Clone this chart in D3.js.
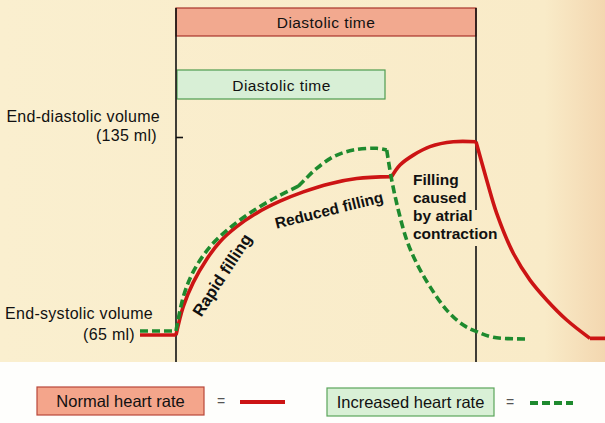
<!DOCTYPE html>
<html><head><meta charset="utf-8">
<script src="https://cdn.jsdelivr.net/npm/d3@7"></script>
<style>
html,body{margin:0;padding:0;background:#fff;}
svg{display:block;}
text{font-family:"Liberation Sans",Arial,Helvetica,sans-serif;fill:#111;}
</style></head>
<body>
<svg id="chart" width="605" height="423"></svg>
<script>
// ---- data (time in ms from start of diastole, volume in ml) ----
const normalTime   = [-60, 0, 12.2, 28.8, 51.2, 73.3, 101.2, 134.5, 173.3, 212.2, 256.7, 301.2, 359.5, 373.3, 395.5, 423.3, 462.2, 500, 517.8, 534.5, 562.2, 590, 617.8, 651.2, 690, 715];
const normalVolume = [65, 65, 75.1, 83.6, 91.8, 98.0, 103.3, 108.1, 112.3, 115.6, 118.5, 120.3, 121.0, 125.1, 128.6, 131.6, 133.3, 133.3, 119.8, 108.0, 93.9, 84.4, 77.4, 70.3, 63.8, 63.8];
const normalKinks  = [0, 359.5, 500, 690];

const fastTime   = [-60, 0, 12.2, 28.8, 56.7, 90, 128.8, 167.8, 203.8, 217.8, 234.5, 262.2, 295.5, 334.5, 351.2, 359.5, 370.5, 384.5, 401.2, 423.3, 451.2, 478.8, 501.2, 528.8, 581.7];
const fastVolume = [66.4, 66.4, 78.5, 87.4, 96.2, 102.9, 108.9, 113.8, 117.6, 120.6, 123.9, 128.0, 130.4, 131.0, 130.4, 119.8, 109.2, 98.6, 90.3, 82.1, 73.8, 68.5, 66.2, 64.2, 63.6];
const fastKinks  = [0, 203.8, 351.2];

const volumeTickValues = [135, 65];
const volumeTickNames  = ["End-diastolic volume", "End-systolic volume"];
const volumeTickUnits  = ["(135 ml)", "(65 ml)"];

const diastoleNormal = [0, 500];
const diastoleFast   = [0, 345];

const legendLabels = ["Normal heart rate", "Increased heart rate"];

// ---- setup ----
const svg = d3.select("#chart");
const x = d3.scaleLinear().domain([-60, 715]).range([140, 605]);
const y = d3.scaleLinear().domain([65, 135]).range([335, 137]);

const RED = "#cc1414", GREEN = "#1e8a2e";

// background
const defs = svg.append("defs");
const grad = defs.append("linearGradient").attr("id","bg").attr("x1","0").attr("x2","1").attr("y1","0").attr("y2","0");
grad.append("stop").attr("offset","0%").attr("stop-color","#faefcf");
grad.append("stop").attr("offset","90%").attr("stop-color","#f9ebc8");
grad.append("stop").attr("offset","100%").attr("stop-color","#f3d7b0");
svg.append("rect").attr("x",0).attr("y",0).attr("width",605).attr("height",423).attr("fill","#fefefc");
svg.append("rect").attr("x",0).attr("y",0).attr("width",605).attr("height",362).attr("fill","url(#bg)");

// top diastolic box (normal)
svg.append("rect").attr("x", x(diastoleNormal[0])).attr("y", 8)
  .attr("width", x(diastoleNormal[1]) - x(diastoleNormal[0])).attr("height", 28)
  .attr("fill", "#f2a98f").attr("stroke", "#a8352a").attr("stroke-width", 1.2);
svg.append("text").attr("x", (x(diastoleNormal[0]) + x(diastoleNormal[1]))/2).attr("y", 27.5)
  .attr("text-anchor","middle").attr("font-size", 15.5).attr("letter-spacing", 0.45).text("Diastolic time");

// fast diastolic box
svg.append("rect").attr("x", x(diastoleFast[0]) + 1).attr("y", 70)
  .attr("width", x(diastoleFast[1]) - x(diastoleFast[0]) + 1).attr("height", 29)
  .attr("fill", "#d8efd6").attr("stroke", "#4f9c4f").attr("stroke-width", 1.2);
svg.append("text").attr("x", (x(diastoleFast[0]) + x(diastoleFast[1]))/2 + 2).attr("y", 90.5)
  .attr("text-anchor","middle").attr("font-size", 15.5).attr("letter-spacing", 0.45).text("Diastolic time");

// vertical lines
svg.append("line").attr("x1", x(0)).attr("x2", x(0)).attr("y1", 8).attr("y2", 362)
  .attr("stroke","#111").attr("stroke-width",1.6);
svg.append("line").attr("x1", x(500)).attr("x2", x(500)).attr("y1", 8).attr("y2", 210)
  .attr("stroke","#111").attr("stroke-width",1.6);
svg.append("line").attr("x1", x(500)).attr("x2", x(500)).attr("y1", 246).attr("y2", 362)
  .attr("stroke","#111").attr("stroke-width",1.6);

// y tick (135 ml)
const yAxis = d3.axisRight(y).tickValues([volumeTickValues[0]]).tickSize(7).tickFormat("");
const ya = svg.append("g").attr("transform", `translate(${x(0)},0)`).call(yAxis);
ya.select(".domain").remove();
ya.selectAll(".tick line").attr("stroke","#111").attr("stroke-width",1.6);

// volume labels
const labelRight = [160, 153];
const unitRight = [157, 135];
volumeTickValues.forEach((v, i) => {
  const yy = y(v);
  const off = i === 0 ? [-15, 3.5] : [-16, 4.5];
  svg.append("text").attr("x", labelRight[i]).attr("y", yy + off[0])
    .attr("text-anchor","end").attr("font-size", 16).attr("letter-spacing", 0.3).text(volumeTickNames[i]);
  svg.append("text").attr("x", unitRight[i]).attr("y", yy + off[1])
    .attr("text-anchor","end").attr("font-size", 16).attr("letter-spacing", 0.3).text(volumeTickUnits[i]);
});

// helpers to split series at kinks
function segments(ts, vs, kinks) {
  const pts = ts.map((t, i) => [t, vs[i]]);
  const segs = [];
  let cur = [];
  pts.forEach(p => {
    cur.push(p);
    if (kinks.includes(p[0]) && cur.length > 1) { segs.push(cur); cur = [p]; }
  });
  if (cur.length > 1) segs.push(cur);
  return segs;
}
const line = d3.line().x(d => x(d[0])).y(d => y(d[1])).curve(d3.curveCatmullRom.alpha(0.5));
function pathFor(segs) { return segs.map(s => line(s)).join(""); }

// normal (red) line
svg.append("path").attr("d", pathFor(segments(normalTime, normalVolume, normalKinks)))
  .attr("fill","none").attr("stroke", RED).attr("stroke-width", 3.6).attr("stroke-linejoin","round");

// fast (green dashed) line
svg.append("path").attr("d", pathFor(segments(fastTime, fastVolume, fastKinks)))
  .attr("fill","none").attr("stroke", GREEN).attr("stroke-width", 3.6).attr("stroke-dasharray","8,4");

// annotations
svg.append("text").attr("transform","translate(222,275) rotate(-57)")
  .attr("text-anchor","middle").attr("dy","0.35em").attr("font-size",16.5).attr("font-weight","bold").text("Rapid filling");
svg.append("text").attr("transform","translate(329,210) rotate(-14)")
  .attr("text-anchor","middle").attr("dy","0.35em").attr("font-size",15.5).attr("font-weight","bold").text("Reduced filling");
["Filling","caused","by atrial","contraction"].forEach((s, i) => {
  svg.append("text").attr("x", 413).attr("y", 184.5 + i*18.3).attr("font-size", 15.5)
    .attr("font-weight","bold").text(s);
});

// legend
const legendBoxes = [
  {x:37, y:387, w:167, fill:"#f4a58b", stroke:"#b8463a", eq:221, lx:[240,285], color:RED, dash:null},
  {x:327, y:388, w:167, fill:"#d9f0d6", stroke:"#5aa55a", eq:510, lx:[530,573], color:GREEN, dash:"8,4"}
];
legendBoxes.forEach((b, i) => {
  svg.append("rect").attr("x", b.x).attr("y", b.y).attr("width", b.w).attr("height", 28)
    .attr("fill", b.fill).attr("stroke", b.stroke).attr("stroke-width", 1.2);
  svg.append("text").attr("x", b.x + b.w/2).attr("y", b.y + 20).attr("text-anchor","middle")
    .attr("font-size", 16.5).text(legendLabels[i]);
  svg.append("text").attr("x", b.eq).attr("y", b.y + 19).attr("text-anchor","middle")
    .attr("font-size", 14).style("fill","#555").text("=");
  svg.append("line").attr("x1", b.lx[0]).attr("x2", b.lx[1]).attr("y1", b.y + 15).attr("y2", b.y + 15)
    .attr("stroke", b.color).attr("stroke-width", 4).attr("stroke-dasharray", b.dash);
});
</script>
</body></html>
